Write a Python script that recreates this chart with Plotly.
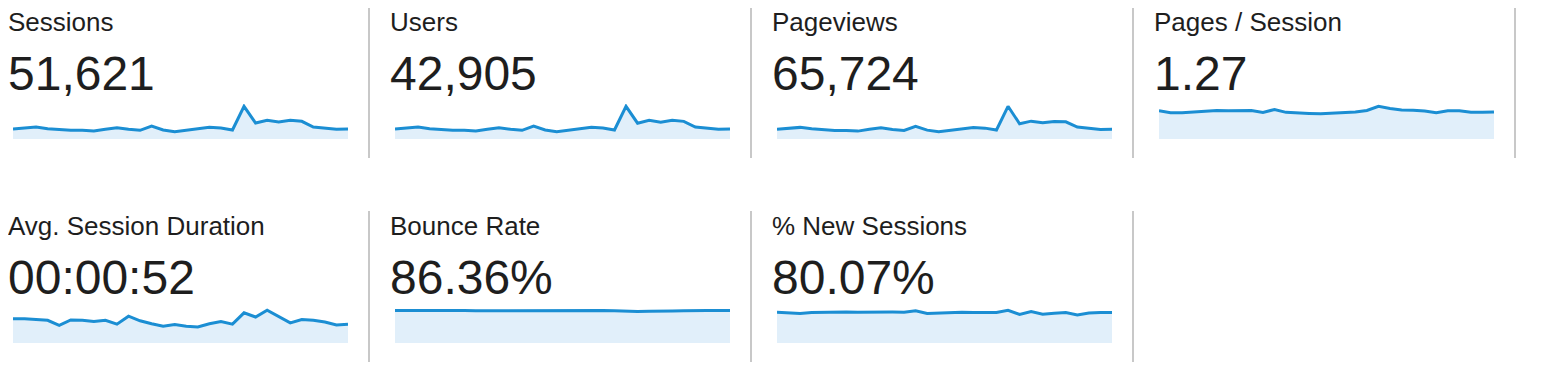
import plotly.graph_objects as go

W, H = 1550, 370
OFF = 8  # page body margin in the browser

titles = ["Sessions", "Users", "Pageviews", "Pages / Session",
          "Avg. Session Duration", "Bounce Rate", "% New Sessions"]
totals = ["51,621", "42,905", "65,724", "1.27", "00:00:52", "86.36%", "80.07%"]

days = list(range(1, 31))

sessions = [1430, 1530, 1720, 1475, 1330, 1245, 1245, 1145, 1390, 1620,
            1390, 1245, 1860, 1290, 1045, 1245, 1475, 1675, 1575, 1290,
            4680, 2290, 2680, 2435, 2680, 2535, 1720, 1575, 1390, 1430]
users = [1190, 1270, 1420, 1225, 1105, 1035, 1040, 950, 1150, 1345,
         1155, 1035, 1540, 1070, 870, 1035, 1225, 1390, 1310, 1075,
         3890, 1880, 2230, 2000, 2240, 2100, 1420, 1305, 1150, 1185]
pageviews = [1820, 1960, 2150, 1880, 1700, 1580, 1590, 1460, 1790, 2060,
             1770, 1590, 2340, 1640, 1330, 1580, 1870, 2130, 2010, 1660,
             6050, 2820, 3300, 3000, 3250, 3180, 2200, 2010, 1780, 1790]
pages_per_session = [1.30, 1.21, 1.21, 1.25, 1.27, 1.32, 1.30, 1.30, 1.32, 1.23,
                     1.36, 1.23, 1.19, 1.18, 1.16, 1.19, 1.21, 1.25, 1.32, 1.51,
                     1.41, 1.34, 1.33, 1.29, 1.21, 1.30, 1.30, 1.23, 1.23, 1.25]
avg_duration_s = [58, 58, 56, 54, 42, 55, 54, 51, 54, 45,
                  64, 53, 46, 40, 44, 40, 38, 46, 51, 45,
                  72, 62, 78, 64, 48, 56, 54, 50, 43, 45]
bounce_rate = [87.0, 87.2, 87.1, 86.9, 87.0, 87.3, 86.8, 86.2, 86.4, 87.0,
               86.3, 87.0, 87.4, 87.5, 87.3, 87.2, 87.0, 87.1, 87.2, 86.5,
               84.5, 84.0, 85.0, 84.5, 85.8, 86.5, 86.0, 86.8, 87.0, 87.1]
new_sessions = [80.5, 79.5, 77.0, 79.5, 80.5, 80.8, 81.0, 80.5, 81.0, 81.5,
                81.0, 80.5, 84.0, 77.0, 78.5, 80.5, 80.5, 80.0, 79.5, 79.5,
                85.5, 74.5, 82.0, 75.5, 78.0, 79.5, 73.5, 78.5, 80.0, 80.0]

series = [sessions, users, pageviews, pages_per_session,
          avg_duration_s, bounce_rate, new_sessions]

LINE = "#1b8ed3"
FILL = "rgba(205,228,246,0.6)"
TEXT = "#1e1e1e"
FONT = "Liberation Sans, Arial, Helvetica, sans-serif"

fig = go.Figure()
layout = dict(width=W, height=H, margin=dict(l=0, r=0, t=0, b=0),
              paper_bgcolor="white", plot_bgcolor="rgba(0,0,0,0)",
              showlegend=False)

def px_x(p):
    return (p - OFF) / W

def px_y(p):
    return 1 - (p - OFF) / H

annotations = []
shapes = []
COL_W = 382
ROW_H = 204

for k, (title, total, vals) in enumerate(zip(titles, totals, series)):
    row, col = divmod(k, 4)
    x0 = 13 + COL_W * col
    x1 = 348 + COL_W * col
    ytop = 104 + ROW_H * row
    ybot = 139 + ROW_H * row
    n = k + 1
    xa = "x" if n == 1 else f"x{n}"
    ya = "y" if n == 1 else f"y{n}"
    fig.add_trace(go.Scatter(x=days, y=vals, mode="lines",
                             line=dict(color=LINE, width=3),
                             fill="tozeroy", fillcolor=FILL,
                             hoverinfo="skip", xaxis=xa, yaxis=ya))
    xkey = "xaxis" if n == 1 else f"xaxis{n}"
    ykey = "yaxis" if n == 1 else f"yaxis{n}"
    layout[xkey] = dict(domain=[px_x(x0), px_x(x1)], range=[days[0], days[-1]],
                        visible=False, anchor=ya, fixedrange=True)
    layout[ykey] = dict(domain=[px_y(ybot), px_y(ytop)], range=[0, max(vals) * 1.07],
                        visible=False, anchor=xa, fixedrange=True)
    tx = 8 + COL_W * col
    annotations.append(dict(x=px_x(tx - 1), y=px_y(22 + ROW_H * row), xref="paper", yref="paper",
                            text=title, showarrow=False, xanchor="left", yanchor="middle",
                            font=dict(family=FONT, size=26, color=TEXT), borderpad=0))
    annotations.append(dict(x=px_x(tx - 1), y=px_y(73 + ROW_H * row), xref="paper", yref="paper",
                            text=total, showarrow=False, xanchor="left", yanchor="middle",
                            font=dict(family=FONT, size=48, color=TEXT), borderpad=0))

divider_x = [369, 751, 1133, 1515]
for row, n_div in [(0, 4), (1, 3)]:
    for dx in divider_x[:n_div]:
        shapes.append(dict(type="line", xref="paper", yref="paper",
                           x0=px_x(dx), x1=px_x(dx),
                           y0=px_y(7 + ROW_H * row), y1=px_y(158 + ROW_H * row),
                           line=dict(color="#c8c8c8", width=2)))

layout["annotations"] = annotations
layout["shapes"] = shapes
fig.update_layout(**layout)
fig.write_html("out.html")
